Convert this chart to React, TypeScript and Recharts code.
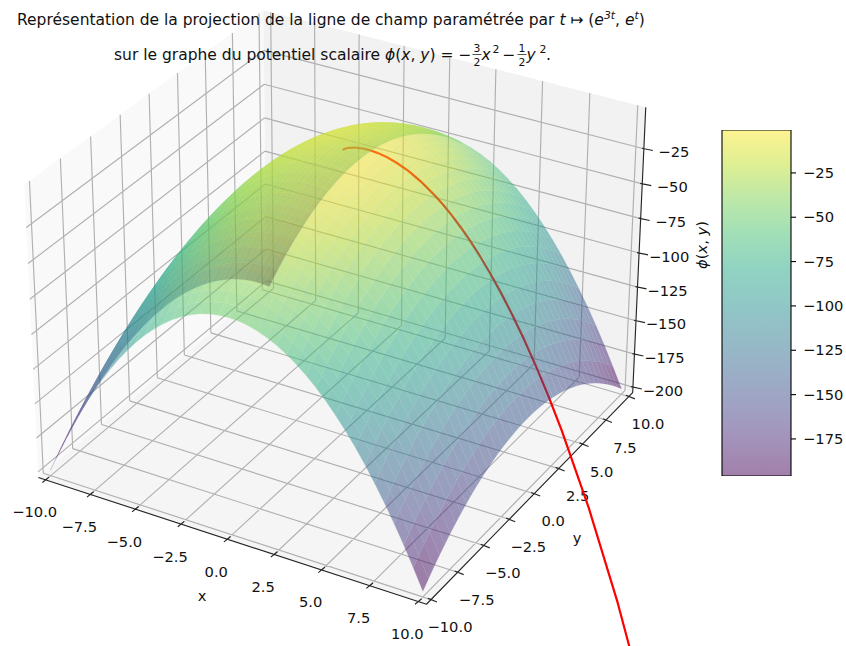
import { Bar, BarChart, Scatter, ScatterChart, XAxis, YAxis } from "recharts";

const WIDTH = 846;
const HEIGHT = 646;

// phi read on one quadrant: rows are |y| = 0, 0.5, .. 10, columns are |x| = 0, 0.5, .. 10
const absX = [0, 0.5, 1, 1.5, 2, 2.5, 3, 3.5, 4, 4.5, 5, 5.5, 6, 6.5, 7, 7.5, 8, 8.5, 9, 9.5, 10];
const absY = [0, 0.5, 1, 1.5, 2, 2.5, 3, 3.5, 4, 4.5, 5, 5.5, 6, 6.5, 7, 7.5, 8, 8.5, 9, 9.5, 10];
const phiRows = [
    [0, -0.4, -1.5, -3.4, -6, -9.4, -13.5, -18.4, -24, -30.4, -37.5, -45.4, -54, -63.4, -73.5, -84.4, -96, -108.4, -121.5, -135.4, -150],
    [-0.1, -0.5, -1.6, -3.5, -6.1, -9.5, -13.6, -18.5, -24.1, -30.5, -37.6, -45.5, -54.1, -63.5, -73.6, -84.5, -96.1, -108.5, -121.6, -135.5, -150.1],
    [-0.5, -0.9, -2, -3.9, -6.5, -9.9, -14, -18.9, -24.5, -30.9, -38, -45.9, -54.5, -63.9, -74, -84.9, -96.5, -108.9, -122, -135.9, -150.5],
    [-1.1, -1.5, -2.6, -4.5, -7.1, -10.5, -14.6, -19.5, -25.1, -31.5, -38.6, -46.5, -55.1, -64.5, -74.6, -85.5, -97.1, -109.5, -122.6, -136.5, -151.1],
    [-2, -2.4, -3.5, -5.4, -8, -11.4, -15.5, -20.4, -26, -32.4, -39.5, -47.4, -56, -65.4, -75.5, -86.4, -98, -110.4, -123.5, -137.4, -152],
    [-3.1, -3.5, -4.6, -6.5, -9.1, -12.5, -16.6, -21.5, -27.1, -33.5, -40.6, -48.5, -57.1, -66.5, -76.6, -87.5, -99.1, -111.5, -124.6, -138.5, -153.1],
    [-4.5, -4.9, -6, -7.9, -10.5, -13.9, -18, -22.9, -28.5, -34.9, -42, -49.9, -58.5, -67.9, -78, -88.9, -100.5, -112.9, -126, -139.9, -154.5],
    [-6.1, -6.5, -7.6, -9.5, -12.1, -15.5, -19.6, -24.5, -30.1, -36.5, -43.6, -51.5, -60.1, -69.5, -79.6, -90.5, -102.1, -114.5, -127.6, -141.5, -156.1],
    [-8, -8.4, -9.5, -11.4, -14, -17.4, -21.5, -26.4, -32, -38.4, -45.5, -53.4, -62, -71.4, -81.5, -92.4, -104, -116.4, -129.5, -143.4, -158],
    [-10.1, -10.5, -11.6, -13.5, -16.1, -19.5, -23.6, -28.5, -34.1, -40.5, -47.6, -55.5, -64.1, -73.5, -83.6, -94.5, -106.1, -118.5, -131.6, -145.5, -160.1],
    [-12.5, -12.9, -14, -15.9, -18.5, -21.9, -26, -30.9, -36.5, -42.9, -50, -57.9, -66.5, -75.9, -86, -96.9, -108.5, -120.9, -134, -147.9, -162.5],
    [-15.1, -15.5, -16.6, -18.5, -21.1, -24.5, -28.6, -33.5, -39.1, -45.5, -52.6, -60.5, -69.1, -78.5, -88.6, -99.5, -111.1, -123.5, -136.6, -150.5, -165.1],
    [-18, -18.4, -19.5, -21.4, -24, -27.4, -31.5, -36.4, -42, -48.4, -55.5, -63.4, -72, -81.4, -91.5, -102.4, -114, -126.4, -139.5, -153.4, -168],
    [-21.1, -21.5, -22.6, -24.5, -27.1, -30.5, -34.6, -39.5, -45.1, -51.5, -58.6, -66.5, -75.1, -84.5, -94.6, -105.5, -117.1, -129.5, -142.6, -156.5, -171.1],
    [-24.5, -24.9, -26, -27.9, -30.5, -33.9, -38, -42.9, -48.5, -54.9, -62, -69.9, -78.5, -87.9, -98, -108.9, -120.5, -132.9, -146, -159.9, -174.5],
    [-28.1, -28.5, -29.6, -31.5, -34.1, -37.5, -41.6, -46.5, -52.1, -58.5, -65.6, -73.5, -82.1, -91.5, -101.6, -112.5, -124.1, -136.5, -149.6, -163.5, -178.1],
    [-32, -32.4, -33.5, -35.4, -38, -41.4, -45.5, -50.4, -56, -62.4, -69.5, -77.4, -86, -95.4, -105.5, -116.4, -128, -140.4, -153.5, -167.4, -182],
    [-36.1, -36.5, -37.6, -39.5, -42.1, -45.5, -49.6, -54.5, -60.1, -66.5, -73.6, -81.5, -90.1, -99.5, -109.6, -120.5, -132.1, -144.5, -157.6, -171.5, -186.1],
    [-40.5, -40.9, -42, -43.9, -46.5, -49.9, -54, -58.9, -64.5, -70.9, -78, -85.9, -94.5, -103.9, -114, -124.9, -136.5, -148.9, -162, -175.9, -190.5],
    [-45.1, -45.5, -46.6, -48.5, -51.1, -54.5, -58.6, -63.5, -69.1, -75.5, -82.6, -90.5, -99.1, -108.5, -118.6, -129.5, -141.1, -153.5, -166.6, -180.5, -195.1],
    [-50, -50.4, -51.5, -53.4, -56, -59.4, -63.5, -68.4, -74, -80.4, -87.5, -95.4, -104, -113.4, -123.5, -134.4, -146, -158.4, -171.5, -185.4, -200],
];

// field line samples
const lineX = [0.003, 0.027, 0.125, 0.343, 0.729, 1, 1.331, 1.728, 2.197, 2.744, 3.375, 4.096, 4.492, 4.913, 5.359, 5.832, 6.332, 6.859, 7.415, 8, 8.615, 9.261, 9.938, 10.648, 12.167, 13.824, 15.625];
const lineY = [0.15, 0.3, 0.5, 0.7, 0.9, 1, 1.1, 1.2, 1.3, 1.4, 1.5, 1.6, 1.65, 1.7, 1.75, 1.8, 1.85, 1.9, 1.95, 2, 2.05, 2.1, 2.15, 2.2, 2.3, 2.4, 2.5];
const linePhi = [-0.01, -0.05, -0.15, -0.42, -1.2, -2, -3.26, -5.2, -8.09, -12.27, -18.21, -26.45, -31.63, -37.65, -44.61, -52.64, -61.85, -72.38, -84.37, -98, -113.43, -130.86, -150.46, -172.49, -224.7, -289.53, -369.34];

const xyTicks = [-10, -7.5, -5, -2.5, 0, 2.5, 5, 7.5, 10];
const zTicks = [-200, -175, -150, -125, -100, -75, -50, -25];
const barTicks = [-175, -150, -125, -100, -75, -50, -25];
const barRange = [-195.9, -0.8];

const viridis = ["#440154", "#482475", "#414487", "#355f8d", "#2a788e", "#21918c", "#22a884", "#44bf70", "#7ad151", "#bddf26", "#fde725"];
const paneColors = ["#f9f9f9", "#f2f2f2", "#f5f5f5"];

const FONT = "DejaVu Sans";
const FONT_SIZE = 14.7;
const TITLE_SIZE = 15.5;
const TEXT_COLOR = "#111";

// same view as a default mplot3d camera (elev 30, azim -60)
const XY_LIM = 10 + 20 / 48;
const Z_LOW = -200 - 200 / 48;
const Z_HIGH = 200 / 48;
const HALF_XY = 0.59525;
const HALF_Z = 0.44644;
const SCALE = 3735;
const CENTER_X = 341;
const CENTER_Y = 293;

function project(x: number, y: number, z: number) {
    const dx = (x / XY_LIM) * HALF_XY;
    const dy = (y / XY_LIM) * HALF_XY;
    const dz = ((z - (Z_LOW + Z_HIGH) / 2) / ((Z_HIGH - Z_LOW) / 2)) * HALF_Z;
    const u = 0.866025 * dx + 0.5 * dy;
    const v = -0.25 * dx + 0.433013 * dy + 0.866025 * dz;
    const w = 0.433013 * dx - 0.75 * dy + 0.5 * dz;
    const den = 10 - w;
    return { sx: CENTER_X + (SCALE * u) / den, sy: CENTER_Y - (SCALE * v) / den, depth: w };
}

function phiAt(i: number, j: number) {
    return phiRows[Math.abs(j)][Math.abs(i)];
}

function hexToRgb(hex: string) {
    return [1, 3, 5].map((k) => parseInt(hex.slice(k, k + 2), 16));
}

function viridisAt(value: number) {
    const t = Math.min(1, Math.max(0, (value - barRange[0]) / (barRange[1] - barRange[0])));
    const pos = t * (viridis.length - 1);
    const k = Math.min(viridis.length - 2, Math.floor(pos));
    const a = hexToRgb(viridis[k]);
    const b = hexToRgb(viridis[k + 1]);
    const mix = a.map((c, n) => Math.round(c + (b[n] - c) * (pos - k)));
    return `rgb(${mix[0]},${mix[1]},${mix[2]})`;
}

// screen orientation tells the top side of the sheet from its underside
function signedArea(c: { sx: number; sy: number }[]) {
    return c.reduce((sum, p, k) => {
        const q = c[(k + 1) % c.length];
        return sum + p.sx * q.sy - q.sx * p.sy;
    }, 0);
}

const signedX = absX.length - 1;
const signedY = absY.length - 1;
const facets: { corners: any[]; depth: number; color: string; top: boolean }[] = [];
for (let j = -signedY; j < signedY; j++) {
    for (let i = -signedX; i < signedX; i++) {
        const ids = [[i, j], [i + 1, j], [i + 1, j + 1], [i, j + 1]];
        const corners = ids.map(([a, b]) =>
            project(Math.sign(a) * absX[Math.abs(a)], Math.sign(b) * absY[Math.abs(b)], phiAt(a, b))
        );
        const mean = ids.reduce((sum, [a, b]) => sum + phiAt(a, b), 0) / 4;
        facets.push({
            corners,
            depth: corners.reduce((sum, c) => sum + c.depth, 0) / 4,
            color: viridisAt(mean),
            top: signedArea(corners) < 0,
        });
    }
}
facets.sort((a, b) => a.depth - b.depth);
const underFacets = facets.filter((f) => !f.top);
const topFacets = facets.filter((f) => f.top);

const L = XY_LIM;
const panePoints = [
    project(-L, -L, Z_LOW), project(-L, L, Z_LOW), project(-L, L, Z_HIGH), project(-L, -L, Z_HIGH),
    project(-L, L, Z_LOW), project(L, L, Z_LOW), project(L, L, Z_HIGH), project(-L, L, Z_HIGH),
    project(-L, -L, Z_LOW), project(L, -L, Z_LOW), project(L, L, Z_LOW), project(-L, L, Z_LOW),
];

const gridPoints: any[] = [];
xyTicks.forEach((t) => {
    gridPoints.push(project(t, -L, Z_LOW), project(t, L, Z_LOW), project(t, L, Z_LOW), project(t, L, Z_HIGH));
    gridPoints.push(project(L, t, Z_LOW), project(-L, t, Z_LOW), project(-L, t, Z_LOW), project(-L, t, Z_HIGH));
});
zTicks.forEach((t) => {
    gridPoints.push(project(-L, -L, t), project(-L, L, t), project(-L, L, t), project(L, L, t));
});

const axisPoints = [
    project(-L, -L, Z_LOW), project(L, -L, Z_LOW),
    project(L, -L, Z_LOW), project(L, L, Z_LOW),
    project(L, L, Z_LOW), project(L, L, Z_HIGH),
];
function tickSegment(p: { sx: number; sy: number }, from: number[], to: number[]) {
    axisPoints.push(
        { sx: p.sx + from[0], sy: p.sy + from[1] } as any,
        { sx: p.sx + to[0], sy: p.sy + to[1] } as any
    );
}
const minus = (v: string) => v.replace("-", "\u2212");
const labels: any[] = [];
xyTicks.forEach((t) => {
    const p = project(t, -L, Z_LOW);
    tickSegment(p, [-3.3, 2.7], [3.3, -2.7]);
    labels.push({ sx: p.sx - 11, sy: p.sy + 32, text: minus(t.toFixed(1)) });
    const q = project(L, t, Z_LOW);
    tickSegment(q, [-3, -1.2], [6, 2.4]);
    labels.push({ sx: q.sx + 19, sy: q.sy + 27, text: minus(t.toFixed(1)) });
});
zTicks.forEach((t) => {
    const p = project(L, L, t);
    tickSegment(p, [-2, -0.5], [9, 1.8]);
    labels.push({ sx: p.sx + 30, sy: p.sy + 3, text: minus(String(t)) });
});
labels.push({ sx: 202, sy: 595, text: "x" });
labels.push({ sx: 577, sy: 537, text: "y" });

// title pieces: normal text, italics and raised runs
const titleRuns: any[] = [
    {
        sx: 17,
        sy: 25,
        runs: [
            { t: "Représentation de la projection de la ligne de champ paramétrée par " },
            { t: "t", i: true },
            { t: " ↦ (" },
            { t: "e", i: true },
            { t: "3t", i: true, sup: true },
            { t: ", " },
            { t: "e", i: true },
            { t: "t", i: true, sup: true },
            { t: ")" },
        ],
    },
    {
        sx: 114,
        sy: 60,
        runs: [
            { t: "sur le graphe du potentiel scalaire " },
            { t: "ϕ", i: true },
            { t: "(" },
            { t: "x", i: true },
            { t: ", " },
            { t: "y", i: true },
            { t: ") =" },
        ],
    },
    { sx: 458.5, sy: 60, runs: [{ t: "\u2212" }] },
    { sx: 473.5, sy: 52, small: true, runs: [{ t: "3" }] },
    { sx: 473.5, sy: 66, small: true, runs: [{ t: "2" }] },
    { sx: 481.5, sy: 60, runs: [{ t: "x", i: true }] },
    { sx: 492.5, sy: 53, small: true, runs: [{ t: "2" }] },
    { sx: 502.5, sy: 60, runs: [{ t: "\u2212" }] },
    { sx: 518.5, sy: 52, small: true, runs: [{ t: "1" }] },
    { sx: 518.5, sy: 66, small: true, runs: [{ t: "2" }] },
    { sx: 526.5, sy: 60, runs: [{ t: "y", i: true }] },
    { sx: 539.5, sy: 53, small: true, runs: [{ t: "2" }] },
    { sx: 546, sy: 60, runs: [{ t: "." }] },
];
const fractionBars = [
    { sx: 472.5, sy: 54.5 }, { sx: 481.5, sy: 54.5 },
    { sx: 517.5, sy: 54.5 }, { sx: 526.5, sy: 54.5 },
];
const zLabel = [{ sx: 701, sy: 245 }];

const linePoints = lineX.map((x, k) => project(x, lineY[k], linePhi[k]));

const noMark = () => <g />;

function polygons(colors: string[], opacity: number, seam = 0) {
    return ({ points }: any) => (
        <g opacity={opacity}>
            {colors.map((color, k) => {
                const c = points.slice(k * 4, k * 4 + 4);
                return (
                    <path
                        key={k}
                        d={`M${c.map((p: any) => `${p.x},${p.y}`).join("L")}Z`}
                        fill={color}
                        stroke={seam ? color : "none"}
                        strokeWidth={seam}
                    />
                );
            })}
        </g>
    );
}

function segments(color: string, width: number) {
    return ({ points }: any) => {
        let d = "";
        for (let k = 0; k + 1 < points.length; k += 2) {
            d += `M${points[k].x},${points[k].y}L${points[k + 1].x},${points[k + 1].y}`;
        }
        return <path d={d} stroke={color} strokeWidth={width} fill="none" />;
    };
}

function polyline(color: string, width: number) {
    return ({ points }: any) => (
        <path
            d={`M${points.map((p: any) => `${p.x},${p.y}`).join("L")}`}
            stroke={color}
            strokeWidth={width}
            strokeLinejoin="round"
            fill="none"
        />
    );
}

function TickText({ cx, cy, payload }: any) {
    return (
        <text x={cx} y={cy} textAnchor="middle" dominantBaseline="central" fontFamily={FONT} fontSize={FONT_SIZE} fill={TEXT_COLOR}>
            {payload.text}
        </text>
    );
}

function TitleText({ cx, cy, payload }: any) {
    const size = payload.small ? TITLE_SIZE * 0.7 : TITLE_SIZE;
    let raised = false;
    return (
        <text x={cx} y={cy} fontFamily={FONT} fontSize={size} fill={TEXT_COLOR} xmlSpace="preserve">
            {payload.runs.map((run: any, k: number) => {
                const dy = run.sup && !raised ? -6 : !run.sup && raised ? 6 : 0;
                raised = !!run.sup;
                return (
                    <tspan key={k} dy={dy} fontStyle={run.i ? "italic" : "normal"} fontSize={run.sup ? size * 0.7 : size}>
                        {run.t}
                    </tspan>
                );
            })}
        </text>
    );
}

function ZAxisLabel({ cx, cy }: any) {
    return (
        <text
            x={cx}
            y={cy}
            transform={`rotate(-90 ${cx} ${cy})`}
            textAnchor="middle"
            dominantBaseline="central"
            fontFamily={FONT}
            fontSize={FONT_SIZE}
            fill={TEXT_COLOR}
        >
            <tspan fontStyle="italic">ϕ</tspan>(<tspan fontStyle="italic">x</tspan>, <tspan fontStyle="italic">y</tspan>)
        </text>
    );
}

const barData = [{ name: "phi", range: barRange }];

function ColorBar() {
    return (
        <div style={{ position: "absolute", left: 700, top: 120 }}>
            <BarChart
                width={146}
                height={366}
                data={barData}
                margin={{ top: 10, right: 0, bottom: 10, left: 22 }}
                barCategoryGap={0}
            >
                <defs>
                    <linearGradient id="viridisBar" x1="0" y1="1" x2="0" y2="0">
                        {viridis.map((color, k) => (
                            <stop key={color} offset={k / (viridis.length - 1)} stopColor={color} stopOpacity={0.5} />
                        ))}
                    </linearGradient>
                </defs>
                <XAxis dataKey="name" hide />
                <YAxis
                    orientation="right"
                    type="number"
                    domain={barRange}
                    allowDataOverflow
                    ticks={barTicks}
                    width={55}
                    axisLine={false}
                    tickSize={5}
                    tickMargin={7}
                    tickLine={{ stroke: "#000", strokeWidth: 1.1 }}
                    tick={{ fontFamily: FONT, fontSize: FONT_SIZE, fill: TEXT_COLOR }}
                    tickFormatter={(v: number) => minus(String(v))}
                />
                <Bar dataKey="range" fill="url(#viridisBar)" stroke="#000" strokeWidth={1.1} isAnimationActive={false} />
            </BarChart>
        </div>
    );
}

export default function App() {
    return (
        <div style={{ position: "absolute", left: 0, top: 0, width: WIDTH, height: HEIGHT, background: "#fff", overflow: "hidden" }}>
            <ScatterChart width={WIDTH} height={HEIGHT} margin={{ top: 0, right: 0, bottom: 0, left: 0 }}>
                <XAxis type="number" dataKey="sx" domain={[0, WIDTH]} allowDataOverflow hide />
                <YAxis type="number" dataKey="sy" domain={[0, HEIGHT]} reversed allowDataOverflow hide width={0} />
                <Scatter data={panePoints} line={polygons(paneColors, 1)} shape={noMark} isAnimationActive={false} />
                <Scatter data={gridPoints} line={segments("#b0b0b0", 1.15)} shape={noMark} isAnimationActive={false} />
                <Scatter data={axisPoints} line={segments("#262626", 1.15)} shape={noMark} isAnimationActive={false} />
                <Scatter data={labels} shape={TickText} isAnimationActive={false} />
                <Scatter data={titleRuns} shape={TitleText} isAnimationActive={false} />
                <Scatter data={fractionBars} line={segments("#262626", 0.8)} shape={noMark} isAnimationActive={false} />
                <Scatter data={zLabel} shape={ZAxisLabel} isAnimationActive={false} />
                <Scatter data={linePoints} line={polyline("#ff0000", 2.2)} shape={noMark} isAnimationActive={false} />
                <Scatter
                    data={underFacets.flatMap((f) => f.corners)}
                    line={polygons(underFacets.map((f) => f.color), 0.5, 0.25)}
                    shape={noMark}
                    isAnimationActive={false}
                />
                <Scatter
                    data={topFacets.flatMap((f) => f.corners)}
                    line={polygons(topFacets.map((f) => f.color), 0.5, 0.25)}
                    shape={noMark}
                    isAnimationActive={false}
                />
            </ScatterChart>
            <ColorBar />
        </div>
    );
}
